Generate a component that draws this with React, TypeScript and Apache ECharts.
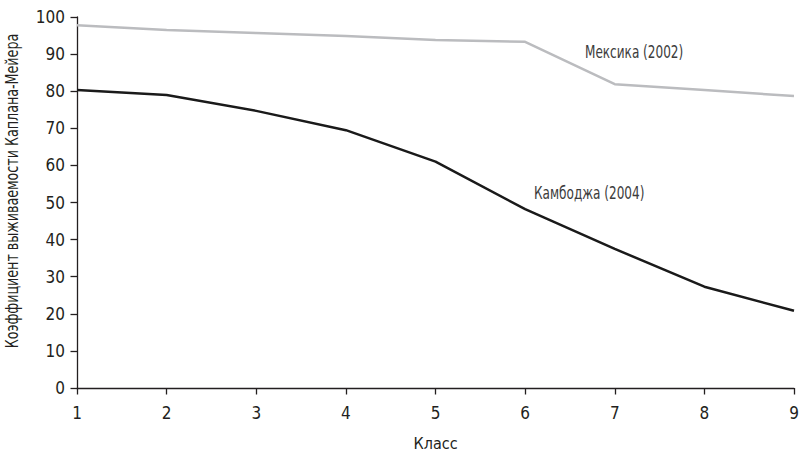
import React, { useEffect, useRef } from "react";
import * as echarts from "echarts";

const grades = [1, 2, 3, 4, 5, 6, 7, 8, 9];
const mexico = [97.8, 96.5, 95.7, 94.9, 93.8, 93.3, 81.9, 80.3, 78.7];
const cambodia = [80.3, 79.0, 74.7, 69.5, 61.0, 48.2, 37.5, 27.3, 20.8];
const mexicoLabel = "Мексика (2002)";
const cambodiaLabel = "Камбоджа (2004)";
const yTitle = "Коэффициент выживаемости Каплана-Мейера";
const xTitle = "Класс";

const FONT = "'DejaVu Sans Condensed', 'Liberation Sans Narrow', 'Open Sans', sans-serif";
const INK = "#231f20";
const NOTE = "#3c3c3c";

export default function App() {
  const ref = useRef<HTMLDivElement>(null);
  useEffect(() => {
    if (!ref.current) return;
    const chart = echarts.init(ref.current, undefined, { renderer: "svg" });
    chart.setOption({
      animation: false,
      backgroundColor: "#ffffff",
      textStyle: { fontFamily: FONT },
      grid: { left: 77, right: 5, top: 17, bottom: 65, containLabel: false, outerBoundsMode: "none" },
      xAxis: {
        type: "value",
        min: 1,
        max: 9,
        interval: 1,
        name: xTitle,
        nameLocation: "middle",
        nameGap: 47,
        nameTextStyle: { fontSize: 16, color: INK, fontFamily: FONT },
        axisLine: { lineStyle: { color: INK, width: 1.3 } },
        axisTick: { length: 6.5, lineStyle: { color: INK, width: 1.3 } },
        axisLabel: { fontSize: 17, color: INK, margin: 16, fontFamily: FONT },
        splitLine: { show: false },
      },
      yAxis: {
        type: "value",
        min: 0,
        max: 100,
        interval: 10,
        axisLine: { show: true, lineStyle: { color: INK, width: 1.3 } },
        axisTick: { show: true, length: 6.5, lineStyle: { color: INK, width: 1.3 } },
        axisLabel: { fontSize: 17, color: INK, margin: 12, fontFamily: FONT },
        splitLine: { show: false },
      },
      series: [
        {
          name: mexicoLabel,
          type: "line",
          data: grades.map((g, i) => [g, mexico[i]]),
          showSymbol: false,
          lineStyle: { color: "#bbbcbf", width: 2.5 },
          itemStyle: { color: "#bbbcbf" },
        },
        {
          name: cambodiaLabel,
          type: "line",
          data: grades.map((g, i) => [g, cambodia[i]]),
          showSymbol: false,
          lineStyle: { color: "#1a1a1a", width: 2.5 },
          itemStyle: { color: "#1a1a1a" },
        },
      ],
      graphic: [
        {
          type: "text",
          x: 12.5,
          y: 191,
          rotation: Math.PI / 2,
          scaleX: 0.83,
          style: {
            text: yTitle,
            fontSize: 17,
            fill: INK,
            fontFamily: FONT,
            textAlign: "center",
            textVerticalAlign: "middle",
          },
        },
        {
          type: "text",
          x: 585,
          y: 52.5,
          scaleX: 0.79,
          style: {
            text: mexicoLabel,
            fontSize: 17,
            fill: NOTE,
            fontFamily: FONT,
            textAlign: "left",
            textVerticalAlign: "middle",
          },
        },
        {
          type: "text",
          x: 534,
          y: 193.7,
          scaleX: 0.79,
          style: {
            text: cambodiaLabel,
            fontSize: 17,
            fill: NOTE,
            fontFamily: FONT,
            textAlign: "left",
            textVerticalAlign: "middle",
          },
        },
      ],
    });
    return () => chart.dispose();
  }, []);
  return <div ref={ref} style={{ width: 799, height: 453, position: "absolute", left: 0, top: 0 }} />;
}
